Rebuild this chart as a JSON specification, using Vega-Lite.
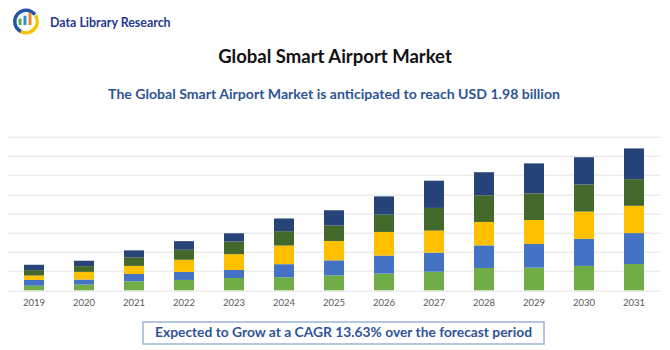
{
  "$schema": "https://vega.github.io/schema/vega-lite/v6.json",
  "width": 652,
  "height": 153.6,
  "autosize": {"type": "none"},
  "padding": {"left": 8, "top": 136.7, "right": 10, "bottom": 59.7},
  "background": "white",
  "config": {
    "view": {"stroke": null},
    "axis": {"labelFont": "Lato", "titleFont": "Lato"}
  },
  "datasets": {
    "bars": [
      {"year": "2019", "segment": "Segment 1", "value": 0.24},
      {"year": "2019", "segment": "Segment 2", "value": 0.30},
      {"year": "2019", "segment": "Segment 3", "value": 0.23},
      {"year": "2019", "segment": "Segment 4", "value": 0.28},
      {"year": "2019", "segment": "Segment 5", "value": 0.28},
      {"year": "2020", "segment": "Segment 1", "value": 0.30},
      {"year": "2020", "segment": "Segment 2", "value": 0.26},
      {"year": "2020", "segment": "Segment 3", "value": 0.40},
      {"year": "2020", "segment": "Segment 4", "value": 0.30},
      {"year": "2020", "segment": "Segment 5", "value": 0.28},
      {"year": "2021", "segment": "Segment 1", "value": 0.47},
      {"year": "2021", "segment": "Segment 2", "value": 0.38},
      {"year": "2021", "segment": "Segment 3", "value": 0.42},
      {"year": "2021", "segment": "Segment 4", "value": 0.45},
      {"year": "2021", "segment": "Segment 5", "value": 0.36},
      {"year": "2022", "segment": "Segment 1", "value": 0.54},
      {"year": "2022", "segment": "Segment 2", "value": 0.42},
      {"year": "2022", "segment": "Segment 3", "value": 0.63},
      {"year": "2022", "segment": "Segment 4", "value": 0.52},
      {"year": "2022", "segment": "Segment 5", "value": 0.45},
      {"year": "2023", "segment": "Segment 1", "value": 0.64},
      {"year": "2023", "segment": "Segment 2", "value": 0.42},
      {"year": "2023", "segment": "Segment 3", "value": 0.82},
      {"year": "2023", "segment": "Segment 4", "value": 0.66},
      {"year": "2023", "segment": "Segment 5", "value": 0.43},
      {"year": "2024", "segment": "Segment 1", "value": 0.68},
      {"year": "2024", "segment": "Segment 2", "value": 0.68},
      {"year": "2024", "segment": "Segment 3", "value": 0.97},
      {"year": "2024", "segment": "Segment 4", "value": 0.75},
      {"year": "2024", "segment": "Segment 5", "value": 0.66},
      {"year": "2025", "segment": "Segment 1", "value": 0.78},
      {"year": "2025", "segment": "Segment 2", "value": 0.78},
      {"year": "2025", "segment": "Segment 3", "value": 1.01},
      {"year": "2025", "segment": "Segment 4", "value": 0.80},
      {"year": "2025", "segment": "Segment 5", "value": 0.80},
      {"year": "2026", "segment": "Segment 1", "value": 0.87},
      {"year": "2026", "segment": "Segment 2", "value": 0.94},
      {"year": "2026", "segment": "Segment 3", "value": 1.23},
      {"year": "2026", "segment": "Segment 4", "value": 0.90},
      {"year": "2026", "segment": "Segment 5", "value": 0.95},
      {"year": "2027", "segment": "Segment 1", "value": 0.97},
      {"year": "2027", "segment": "Segment 2", "value": 0.99},
      {"year": "2027", "segment": "Segment 3", "value": 1.15},
      {"year": "2027", "segment": "Segment 4", "value": 1.18},
      {"year": "2027", "segment": "Segment 5", "value": 1.42},
      {"year": "2028", "segment": "Segment 1", "value": 1.16},
      {"year": "2028", "segment": "Segment 2", "value": 1.18},
      {"year": "2028", "segment": "Segment 3", "value": 1.22},
      {"year": "2028", "segment": "Segment 4", "value": 1.39},
      {"year": "2028", "segment": "Segment 5", "value": 1.20},
      {"year": "2029", "segment": "Segment 1", "value": 1.18},
      {"year": "2029", "segment": "Segment 2", "value": 1.23},
      {"year": "2029", "segment": "Segment 3", "value": 1.25},
      {"year": "2029", "segment": "Segment 4", "value": 1.39},
      {"year": "2029", "segment": "Segment 5", "value": 1.56},
      {"year": "2030", "segment": "Segment 1", "value": 1.27},
      {"year": "2030", "segment": "Segment 2", "value": 1.41},
      {"year": "2030", "segment": "Segment 3", "value": 1.42},
      {"year": "2030", "segment": "Segment 4", "value": 1.41},
      {"year": "2030", "segment": "Segment 5", "value": 1.42},
      {"year": "2031", "segment": "Segment 1", "value": 1.37},
      {"year": "2031", "segment": "Segment 2", "value": 1.61},
      {"year": "2031", "segment": "Segment 3", "value": 1.42},
      {"year": "2031", "segment": "Segment 4", "value": 1.39},
      {"year": "2031", "segment": "Segment 5", "value": 1.60}
    ],
    "title": [{"label": "Global Smart Airport Market"}],
    "subtitle": [{"label": "The Global Smart Airport Market is anticipated to reach USD 1.98 billion"}],
    "footer": [{"label": "Expected to Grow at a CAGR 13.63% over the forecast period"}],
    "brand": [{"label": "Data Library Research"}]
  },
  "layer": [
    {
      "data": {"name": "bars"},
      "mark": {"type": "bar"},
      "encoding": {
        "x": {
          "field": "year",
          "type": "nominal",
          "scale": {"paddingInner": 0.6, "paddingOuter": 0.32},
          "axis": {
            "title": null,
            "labelAngle": 0,
            "labelFontSize": 9.5,
            "labelColor": "#595959",
            "labelPadding": 7,
            "ticks": false,
            "domain": false
          }
        },
        "y": {
          "aggregate": "sum",
          "field": "value",
          "type": "quantitative",
          "stack": "zero",
          "scale": {"domain": [0, 8], "nice": false},
          "axis": {
            "title": null,
            "labels": false,
            "ticks": false,
            "domain": false,
            "tickCount": 8,
            "gridColor": "#e3e3e3",
            "gridWidth": 1
          }
        },
        "color": {
          "field": "segment",
          "type": "nominal",
          "scale": {
            "domain": ["Segment 1", "Segment 2", "Segment 3", "Segment 4", "Segment 5"],
            "range": ["#70ad47", "#4472c4", "#ffc000", "#43682b", "#264478"]
          },
          "legend": null
        },
        "order": {"field": "segment", "sort": "ascending"}
      }
    },
    {
      "data": {"name": "title"},
      "mark": {"type": "text", "font": "Lato", "fontSize": 18.5, "fontWeight": "bold", "color": "#111111", "dx": 1, "baseline": "middle"},
      "encoding": {
        "x": {"datum": "2025"},
        "y": {"datum": 12.15},
        "text": {"field": "label"}
      }
    },
    {
      "data": {"name": "subtitle"},
      "mark": {"type": "text", "font": "Lato", "fontSize": 14.1, "fontWeight": "bold", "color": "#2f5496", "dx": 0, "baseline": "middle"},
      "encoding": {
        "x": {"datum": "2025"},
        "y": {"datum": 10.15},
        "text": {"field": "label"}
      }
    },
    {
      "data": {"name": "footer"},
      "mark": {"type": "rect", "fill": "white", "stroke": "#9fb3d6", "strokeWidth": 1.5},
      "encoding": {
        "x": {"datum": "2021", "bandPosition": 0.95},
        "x2": {"datum": "2029", "bandPosition": 1},
        "y": {"datum": -1.65},
        "y2": {"datum": -2.8}
      }
    },
    {
      "data": {"name": "footer"},
      "mark": {"type": "text", "font": "Lato", "fontSize": 13.8, "fontWeight": "bold", "color": "#2f5496", "dx": 9.5, "baseline": "middle"},
      "encoding": {
        "x": {"datum": "2025"},
        "y": {"datum": -2.23},
        "text": {"field": "label"}
      }
    },
    {
      "data": {"name": "brand"},
      "mark": {"type": "arc", "fill": "#2455a4", "radius": 13, "radius2": 9.5, "theta": 3.6, "theta2": 7.2},
      "encoding": {
        "x": {"datum": "2019", "bandPosition": 0.1},
        "y": {"datum": 14.0}
      }
    },
    {
      "data": {"name": "brand"},
      "mark": {"type": "arc", "fill": "#f5c400", "radius": 13, "radius2": 9.5, "theta": 1.0, "theta2": 3.6},
      "encoding": {
        "x": {"datum": "2019", "bandPosition": 0.1},
        "y": {"datum": 14.0}
      }
    },
    {
      "data": {"name": "brand"},
      "mark": {"type": "rule", "stroke": "#4caf50", "strokeWidth": 3},
      "encoding": {
        "x": {"datum": "2019", "bandPosition": -0.2},
        "y": {"datum": 13.82},
        "y2": {"datum": 14.15}
      }
    },
    {
      "data": {"name": "brand"},
      "mark": {"type": "rule", "stroke": "#2f8fc9", "strokeWidth": 3},
      "encoding": {
        "x": {"datum": "2019", "bandPosition": 0.05},
        "y": {"datum": 13.82},
        "y2": {"datum": 14.3}
      }
    },
    {
      "data": {"name": "brand"},
      "mark": {"type": "rule", "stroke": "#e8862a", "strokeWidth": 3},
      "encoding": {
        "x": {"datum": "2019", "bandPosition": 0.3},
        "y": {"datum": 13.82},
        "y2": {"datum": 14.45}
      }
    },
    {
      "data": {"name": "brand"},
      "mark": {"type": "text", "font": "Lato", "fontSize": 12.4, "fontWeight": "bold", "color": "#1f3a8f", "align": "left", "dx": 16, "baseline": "middle"},
      "encoding": {
        "x": {"datum": "2019"},
        "y": {"datum": 13.92},
        "text": {"field": "label"}
      }
    }
  ]
}
